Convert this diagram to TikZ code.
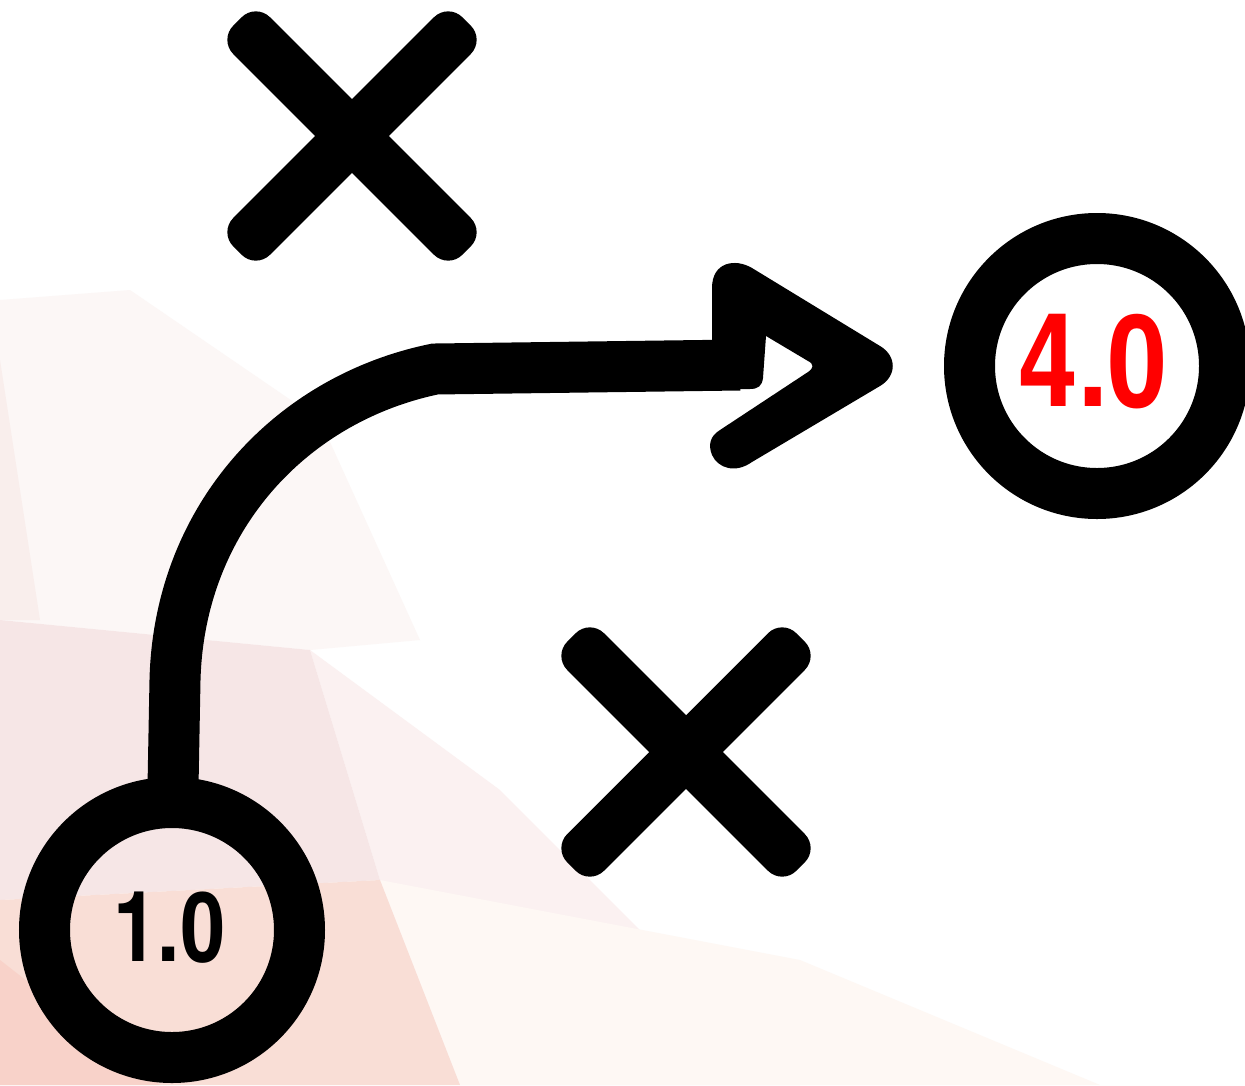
\documentclass[tikz,border=0pt]{standalone}
\usepackage{fontspec}
\newfontfamily\labelfont{texgyreheroscn}[Extension=.otf, UprightFont=*-regular, BoldFont=*-bold]
\definecolor{bgA}{HTML}{FCF7F6}
\definecolor{bgB}{HTML}{F6E6E6}
\definecolor{bgC}{HTML}{F9DED6}
\definecolor{bgD}{HTML}{F8D2C9}
\definecolor{bgE}{HTML}{FBF1F1}
\definecolor{bgF}{HTML}{FEF8F4}
\definecolor{bgG}{HTML}{F9EEEC}
\definecolor{labelred}{HTML}{FF0000}
\tikzset{
  ring/.style={circle, draw=black, line width=51pt, minimum size=255pt, inner sep=0pt},
  labeltext/.style={inner sep=0pt},
  pathline/.style={draw=black, line width=51pt},
  xmark/.pic={
    \fill[black, rotate=45, rounded corners=20pt] (-162,-26) rectangle (162,26);
    \fill[black, rotate=-45, rounded corners=20pt] (-162,-26) rectangle (162,26);
  }
}
\begin{document}
\begin{tikzpicture}[x=1pt,y=-1pt]
\useasboundingbox (0,0) rectangle (1245,1085);
% background
\fill[white] (0,0) rectangle (1245,1085);
\fill[bgA] (0,300) -- (130,290) -- (320,420) -- (420,640) -- (310,650) -- (0,620) -- cycle;
\fill[bgG] (0,360) -- (40,620) -- (0,620) -- cycle;
\fill[bgE] (310,650) -- (500,790) -- (700,990) -- (800,1085) -- (460,1085) -- (380,880) -- cycle;
\fill[bgF] (380,880) -- (800,960) -- (1100,1085) -- (460,1085) -- cycle;
\fill[bgB] (0,620) -- (310,650) -- (380,880) -- (0,900) -- cycle;
\fill[bgC] (0,900) -- (380,880) -- (460,1085) -- (0,1085) -- cycle;
\fill[bgD] (0,960) -- (160,1085) -- (0,1085) -- cycle;

% crosses
\pic (xa) at (352,136) {xmark};
\pic (xb) at (686,752) {xmark};

% start and goal rings
\node[ring] (start) at (172,930) {};
\node[ring] (goal) at (1097,366) {};
\node[labeltext, font=\labelfont\bfseries\fontsize{98}{98}\selectfont] (t1) at (169,928) {1.0};
\node[labeltext, text=labelred, font=\labelfont\bfseries\fontsize{130}{130}\selectfont] (t4) at (1093,362) {4.0};

% route
\coordinate (bend) at (175,680);
\coordinate (barstart) at (435,369);
\coordinate (barend) at (740,365);
\draw[pathline] ([xshift=1pt,yshift=-10pt]start.north) -- (bend) .. controls (179,520) and (289,399) .. (barstart) -- (barend);

% arrow head
\fill[black] (712,389) -- (712,341) -- (712,288) .. controls (712,262) and (735,258) .. (752,268)
  -- (880,346) .. controls (897,356) and (897,376) .. (880,386)
  -- (752,462) .. controls (735,474) and (718,468) .. (712,455)
  .. controls (708,445) and (710,436) .. (720,430)
  -- (808,372) .. controls (814,368) and (814,364) .. (808,361)
  -- (766,336) -- (763,378) .. controls (762,386) and (758,389) .. (750,389) -- cycle;
\end{tikzpicture}
\end{document}
